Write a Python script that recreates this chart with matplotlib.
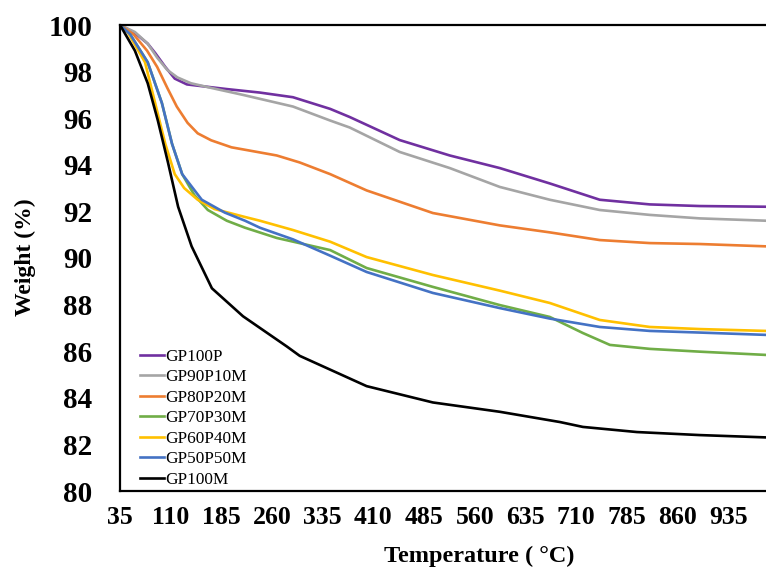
import matplotlib
matplotlib.use("Agg")
import matplotlib.pyplot as plt

# TGA curves, values
t_gp100p = [35, 57, 76, 87, 102, 116, 134, 193, 242, 291, 346, 375, 449, 523, 597, 671, 745, 819, 893, 991]
w_gp100p = [100, 99.66, 99.2, 98.8, 98.2, 97.7, 97.45, 97.25, 97.1, 96.9, 96.4, 96.05, 95.06, 94.4, 93.86, 93.2, 92.5, 92.3, 92.23, 92.2]

t_gp90 = [35, 57, 76, 90, 105, 120, 140, 170, 217, 291, 346, 375, 449, 523, 597, 671, 745, 819, 893, 991]
w_gp90 = [100, 99.7, 99.2, 98.6, 98.07, 97.75, 97.5, 97.3, 97.0, 96.5, 95.9, 95.6, 94.55, 93.86, 93.05, 92.5, 92.06, 91.85, 91.7, 91.6]

t_gp80 = [35, 55, 75, 90, 105, 119, 135, 150, 170, 200, 267, 301, 346, 400, 498, 597, 671, 745, 819, 893, 991]
w_gp80 = [100, 99.6, 98.9, 98.2, 97.3, 96.5, 95.8, 95.35, 95.05, 94.75, 94.4, 94.1, 93.6, 92.9, 91.93, 91.4, 91.1, 90.77, 90.64, 90.6, 90.5]

t_gp70 = [35, 50, 76, 97, 112, 127, 145, 165, 193, 220, 267, 346, 400, 498, 597, 671, 720, 760, 819, 893, 991]
w_gp70 = [100, 99.6, 98.4, 96.65, 94.9, 93.6, 92.7, 92.06, 91.6, 91.3, 90.86, 90.34, 89.57, 88.76, 87.98, 87.47, 86.78, 86.27, 86.1, 85.98, 85.84]

t_gp60 = [35, 47, 72, 87, 102, 116, 130, 150, 175, 220, 242, 291, 346, 400, 498, 597, 671, 745, 819, 893, 991]
w_gp60 = [100, 99.66, 98.4, 96.65, 94.9, 93.6, 93.0, 92.5, 92.1, 91.76, 91.6, 91.2, 90.7, 90.04, 89.27, 88.6, 88.07, 87.34, 87.04, 86.95, 86.87]

t_gp50 = [35, 50, 76, 97, 112, 127, 156, 190, 220, 242, 291, 346, 400, 498, 597, 671, 745, 819, 893, 991]
w_gp50 = [100, 99.6, 98.4, 96.65, 94.9, 93.6, 92.5, 91.95, 91.6, 91.3, 90.8, 90.1, 89.4, 88.5, 87.85, 87.4, 87.04, 86.87, 86.8, 86.7]

t_gp100m = [35, 57, 76, 91, 106, 121, 141, 171, 217, 282, 301, 400, 498, 597, 686, 720, 800, 893, 991]
w_gp100m = [100, 98.9, 97.5, 95.9, 94.1, 92.2, 90.5, 88.7, 87.5, 86.2, 85.8, 84.5, 83.8, 83.4, 82.96, 82.75, 82.53, 82.4, 82.3]

series = [
    ("GP100P", t_gp100p, w_gp100p, "#7030A0"),
    ("GP90P10M", t_gp90, w_gp90, "#A5A5A5"),
    ("GP80P20M", t_gp80, w_gp80, "#ED7D31"),
    ("GP70P30M", t_gp70, w_gp70, "#70AD47"),
    ("GP60P40M", t_gp60, w_gp60, "#FFC000"),
    ("GP50P50M", t_gp50, w_gp50, "#4472C4"),
    ("GP100M", t_gp100m, w_gp100m, "#000000"),
]

x_ticks = [35, 110, 185, 260, 335, 410, 485, 560, 635, 710, 785, 860, 935]
y_ticks = [80, 82, 84, 86, 88, 90, 92, 94, 96, 98, 100]

plt.rcParams["font.family"] = ["Liberation Serif", "DejaVu Serif"]

fig = plt.figure(figsize=(7.66, 5.72), dpi=100)
ax = fig.add_axes([120 / 766, 81 / 572, 646 / 766, 466 / 572])

for name, t, w, c in series:
    ax.plot(t, w, color=c, lw=1.9, label=name, solid_joinstyle="round")

ax.set_xlim(35, 991)
ax.set_ylim(80, 100)
ax.set_xticks(x_ticks)
ax.set_yticks(y_ticks)
ax.tick_params(axis="both", length=0)
ax.tick_params(axis="x", pad=11)
ax.tick_params(axis="y", pad=20)
for lab in ax.get_xticklabels():
    lab.set_fontsize(18.5)
    lab.set_fontweight("bold")
for lab in ax.get_yticklabels():
    lab.set_fontsize(21)
    lab.set_fontweight("bold")

for s in ["left", "top", "bottom"]:
    ax.spines[s].set_linewidth(1.6)
ax.spines["right"].set_visible(False)

fig.text(25 / 766, 1 - 257 / 572, "Weight (%)", rotation=90, ha="center", va="center",
         fontsize=17, fontweight="bold")
fig.text(479 / 766, 1 - 556 / 572, "Temperature ( °C)", ha="center", va="center",
         fontsize=17.5, fontweight="bold")

ax.legend(loc="lower left", bbox_to_anchor=(0.02, -0.008), frameon=False, fontsize=12.4,
          handlelength=1.4, handletextpad=0.05, labelspacing=0.26, borderaxespad=0.0)

fig.savefig("out.png", dpi=100)
